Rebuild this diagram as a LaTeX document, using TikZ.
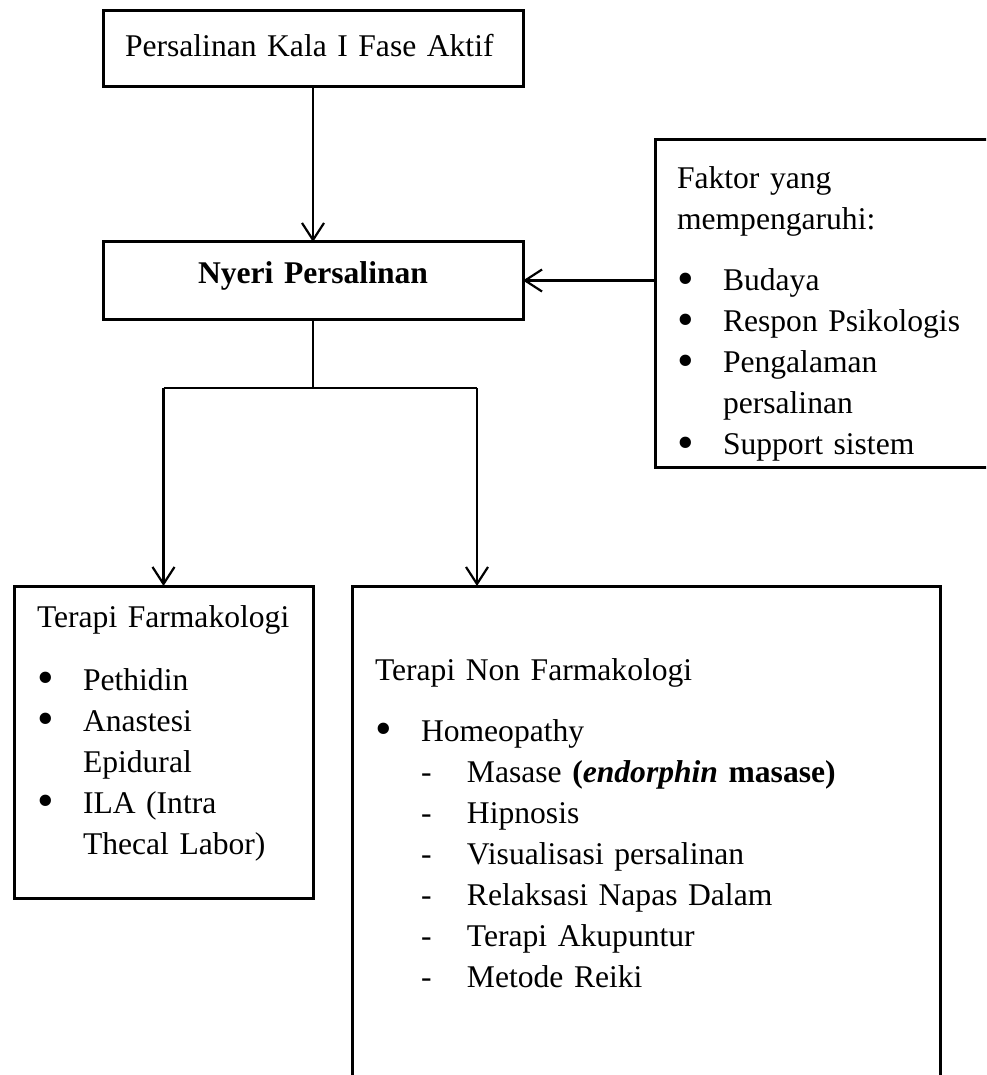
\documentclass[tikz,border=0pt]{standalone}
\usepackage{fontspec}
\setmainfont{Liberation Serif}
\usetikzlibrary{arrows.meta}
\newcommand{\bitem}[1]{\makebox[46pt][l]{\smash{\raisebox{-3.2pt}{\scalebox{1.5}{•}}}}#1}
\newcommand{\ditem}[1]{\hspace*{46pt}\makebox[46pt][l]{-}#1}
\newcommand{\cont}[1]{\hspace*{46pt}#1}
\begin{document}
\begin{tikzpicture}[x=1pt,y=-1pt,box/.style={shape=rectangle,draw=black,line width=3pt,anchor=north west,outer sep=0pt,inner ysep=0pt,align=left,font=\fontsize{31.6}{41}\selectfont},boxB/.style={box,align=center,font=\fontsize{31.6}{41}\selectfont\bfseries},arr/.style={line width=2.2pt,-{Straight Barb[length=17pt,width=22pt]}},thinline/.style={line width=1.1pt}]
\def\yb{388};
\def\xb{477};

\useasboundingbox (0,0) rectangle (986,1075);
\clip (0,0) rectangle (986,1075);

\node[box,inner xsep=22pt,text width=376pt,text height=46pt,text depth=30pt] (akt) at (103,11) {Persalinan Kala I Fase Aktif};
\node[boxB,inner xsep=22pt,text width=376pt,text height=41pt,text depth=36pt] (nyeri) at (103,242) {Nyeri Persalinan};
\node[box,inner xsep=22pt,text width=400pt,text height=49pt,text depth=278pt] (fakt) at (655,140) {Faktor yang\\mempengaruhi:\\[20pt]\bitem{Budaya}\\\bitem{Respon Psikologis}\\\bitem{Pengalaman}\\\cont{persalinan}\\\bitem{Support sistem}};
\draw[arr] (fakt.west |- nyeri.east) -- (nyeri.east);
\draw[arr] (akt.south) -- (nyeri.north);

\node[box,inner xsep=23pt,text width=253pt,text height=41pt,text depth=271pt] (farm) at (14,586) {\mbox{Terapi Farmakologi}\\[22pt]\bitem{Pethidin}\\\bitem{Anastesi}\\\cont{Epidural}\\\bitem{ILA (Intra}\\\cont{Thecal Labor)}};
\node[box,inner xsep=23pt,text width=542pt,text height=94pt,text depth=426pt] (nonfarm) at (352,586) {Terapi Non Farmakologi\\[20pt]\bitem{Homeopathy}\\\ditem{Masase \textbf{(\textit{endorphin} masase)}}\\\ditem{Hipnosis}\\\ditem{Visualisasi persalinan}\\\ditem{Relaksasi Napas Dalam}\\\ditem{Terapi Akupuntur}\\\ditem{Metode Reiki}};

\coordinate (brk) at (nyeri.south |- 0,\yb);
\coordinate (brkL) at (farm.north |- brk);
\coordinate (brkR) at (\xb,\yb);
\draw[thinline] (nyeri.south) -- (brk);
\draw[thinline] (brkL) -- (brkR);
\draw[arr] (brkL) -- (farm.north);
\draw[arr] (brkR) -- (brkR |- nonfarm.north);
\end{tikzpicture}
\end{document}
